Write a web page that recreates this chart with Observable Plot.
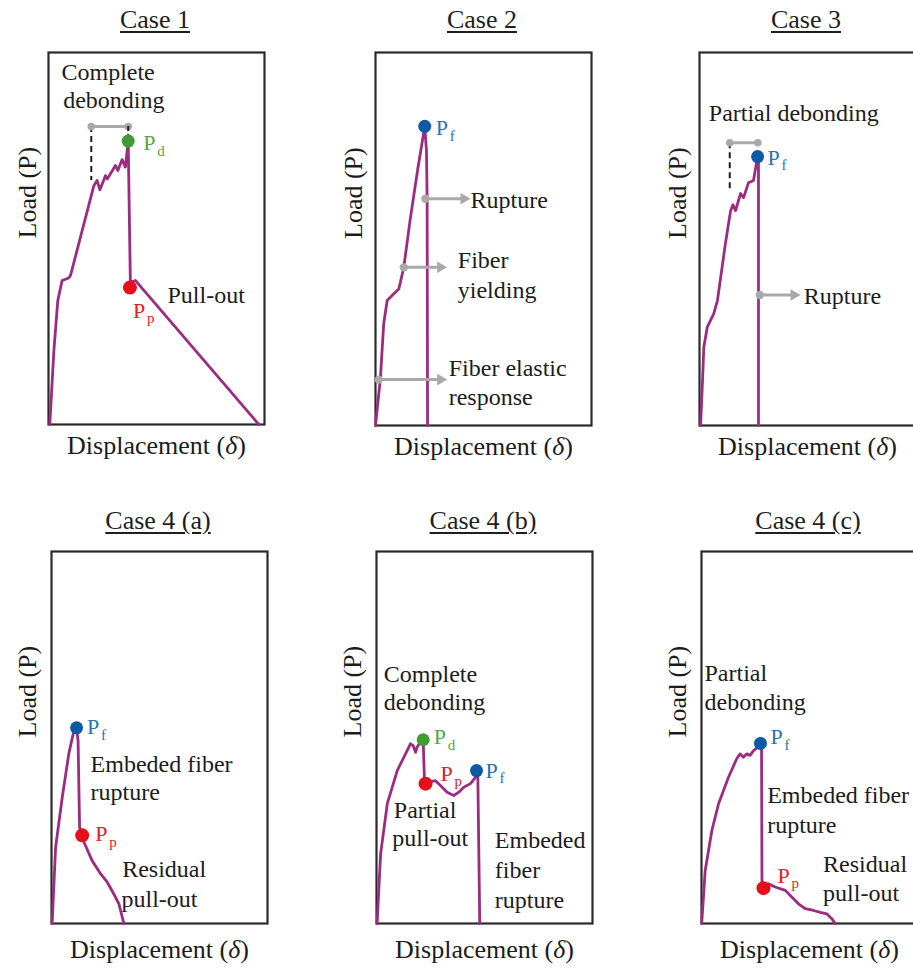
<!DOCTYPE html>
<html>
<head>
<meta charset="utf-8">
<script src="https://cdn.jsdelivr.net/npm/d3@7"></script>
<script src="https://cdn.jsdelivr.net/npm/@observablehq/plot@0.6"></script>
<style>
  html, body { margin: 0; padding: 0; background: #fff; overflow: hidden; }
  #fig { position: relative; width: 913px; height: 973px; overflow: hidden;
         font-family: "Liberation Serif", "Times New Roman", serif; }
  .panel { position: absolute; }
  .panel svg { max-width: none !important; }
  .title { position: absolute; width: 240px; text-align: center; font-size: 26px; line-height: 30px;
           color: #1e1e1e; text-decoration: underline; text-decoration-thickness: 1.5px;
           text-underline-offset: 3px; white-space: nowrap; }
</style>
</head>
<body>
<div id="fig"></div>
<script>
// Schematic load–displacement responses of a fiber pulled from a matrix.
// Displacement and load are given as % of each plotting window.

// ---- Case 1: complete debonding followed by pull-out
const case1Curve = [[0.6,0],[2.5,19.9],[4.3,33.3],[6.3,38.7],[9.4,39.4],[10.2,40.1],[21.0,64.2],[22.5,65.6],[23.8,63.1],
  [26.4,66.9],[27.2,66.0],[31.0,69.6],[32.1,68.3],[34.1,71.2],[35.6,69.2],[36.9,76.2],[37.9,38.2],[40.3,38.7],[97.4,0]];
const case1Points = [{x:36.9,y:76.2,kind:"d"},{x:37.7,y:36.8,kind:"p"}];
const case1Notes = [{x:6.0,y:94.6,text:"Complete"},{x:6.8,y:87.1,text:"debonding"},{x:55.1,y:34.7,text:"Pull-out"}];
const case1Span = {x1:19.8,x2:36.9,y:80.1,drop:65.6,peak:76.2};

// ---- Case 2: fiber rupture
const case2Curve = [[0,0],[2.3,12.9],[3.8,27.3],[5.4,33.5],[8.5,35.3],[10.8,36.6],[13.1,42.4],[16.0,55.0],[19.5,68.5],
  [22.8,80.2],[23.6,73.7],[23.9,60.3],[24.1,0]];
const case2Points = [{x:22.8,y:80.2,kind:"f"}];
const case2Notes = [{x:44.0,y:60.3,text:"Rupture"},{x:38.1,y:44.2,text:"Fiber"},{x:38.1,y:36.2,text:"yielding"},
  {x:33.9,y:15.3,text:"Fiber elastic"},{x:33.9,y:7.6,text:"response"}];
const case2Arrows = [{x1:23.1,x2:40.9,y:60.8},{x1:13.1,x2:30.1,y:42.4},{x1:1.5,x2:30.1,y:12.3}];

// ---- Case 3: partial debonding then rupture
const case3Curve = [[0.5,0],[1.4,12.1],[2.0,21.0],[3.6,26.4],[6.6,30.0],[8.3,33.5],[12.0,48.8],[14.4,57.6],[15.5,59.2],
  [16.7,57.6],[19.0,62.2],[20.4,61.1],[22.7,65.1],[25.0,65.7],[26.9,72.1],[27.3,71.0],[27.3,0]];
const case3Points = [{x:26.9,y:72.1,kind:"f"}];
const case3Notes = [{x:4.3,y:83.6,text:"Partial debonding"},{x:48.3,y:34.6,text:"Rupture"}];
const case3Arrows = [{x1:27.9,x2:43.7,y:35.0}];
const case3Span = {x1:14.0,x2:27.0,y:75.8,drop:62.5,peak:null};

// ---- Case 4 (a)
const case4aCurve = [[0.3,0],[1.9,20.5],[5.0,34.0],[8.0,45.6],[10.3,51.7],[11.6,52.6],[12.3,49.2],[13.0,25.9],[14.2,23.7],
  [15.0,21.9],[18.8,16.9],[22.7,13.4],[25.8,11.1],[28.8,8.0],[31.2,5.3],[33.5,0]];
const case4aPoints = [{x:11.6,y:52.6,kind:"f"},{x:14.2,y:23.7,kind:"p"}];
const case4aNotes = [{x:18.1,y:42.9,text:"Embeded fiber"},{x:18.1,y:35.3,text:"rupture"},
  {x:32.7,y:14.7,text:"Residual"},{x:32.4,y:6.6,text:"pull-out"}];

// ---- Case 4 (b)
const case4bCurve = [[0.3,0],[1.9,18.7],[5.0,32.2],[9.6,41.1],[14.2,46.5],[15.7,48.3],[17.0,47.8],[18.1,46.0],[18.8,47.4],
  [20.4,48.9],[21.6,49.4],[22.2,38.4],[22.7,37.6],[24.2,38.0],[27.3,38.4],[29.6,37.1],[32.7,35.3],[35.8,34.4],[38.1,35.3],
  [40.4,36.6],[43.5,37.6],[45.8,39.3],[46.3,41.1],[46.9,40.2],[47.8,0]];
const case4bPoints = [{x:21.6,y:49.4,kind:"d"},{x:22.7,y:37.6,kind:"p"},{x:46.3,y:41.1,kind:"f"}];
const case4bNotes = [{x:3.4,y:67.1,text:"Complete"},{x:3.4,y:59.5,text:"debonding"},{x:8.0,y:30.4,text:"Partial"},
  {x:7.3,y:22.8,text:"pull-out"},{x:54.8,y:22.3,text:"Embeded"},{x:54.8,y:14.2,text:"fiber"},{x:54.8,y:6.2,text:"rupture"}];

// ---- Case 4 (c)
const case4cCurve = [[0.1,0],[1.7,14.2],[4.8,25.0],[7.9,32.2],[12.5,39.3],[16.3,44.3],[17.9,45.6],[19.4,44.7],[21.0,45.6],
  [22.5,45.2],[24.1,46.5],[26.1,47.4],[27.3,48.4],[27.8,46.5],[28.0,10.7],[28.7,9.5],[31.0,10.7],[34.1,9.8],[38.8,8.9],
  [41.8,7.1],[44.9,5.3],[48.0,4.0],[51.9,3.5],[55.0,3.0],[58.0,2.6],[60.3,1.3],[61.9,0]];
const case4cPoints = [{x:27.3,y:48.4,kind:"f"},{x:28.7,y:9.5,kind:"p"}];
const case4cNotes = [{x:1.4,y:67.3,text:"Partial"},{x:1.4,y:59.5,text:"debonding"},{x:30.4,y:34.4,text:"Embeded fiber"},
  {x:30.4,y:26.3,text:"rupture"},{x:56.3,y:16.0,text:"Residual"},{x:56.3,y:8.0,text:"pull-out"}];

// ---- styling
const FONT = "'Liberation Serif', 'Times New Roman', serif";
const PURPLE = "#9b2c80";
const GRAY = "#a9a9a9";
const INK = "#1c1c1c";
const dotFill = {d: "#3f9b35", p: "#e5101c", f: "#0c5aa6"};
const labelFill = {d: "#58a644", p: "#e1201f", f: "#2a73a9"};
const dotR = {d: 6.5, p: 7, f: 6.5};

// panel layout: frame position (px), label offsets for the point markers
const panels = [
  {title:"Case 1", left:48, top:52, h:372, curve:case1Curve, points:case1Points, notes:case1Notes, span:case1Span,
   offsets:[[15,2],[3,23]], loadDx:-21, dispDy:29, titleTop:5},
  {title:"Case 2", left:375, top:52, h:373, curve:case2Curve, points:case2Points, notes:case2Notes, arrows:case2Arrows,
   offsets:[[11,2]], loadDx:-22, dispDy:29, titleTop:5},
  {title:"Case 3", left:699, top:52, h:373, curve:case3Curve, points:case3Points, notes:case3Notes, arrows:case3Arrows,
   span:case3Span, offsets:[[10,1]], loadDx:-22, dispDy:29, titleTop:5},
  {title:"Case 4 (a)", left:51, top:551, h:372, curve:case4aCurve, points:case4aPoints, notes:case4aNotes,
   offsets:[[10.5,-1],[13,-1]], loadDx:-24, dispDy:34, titleTop:506},
  {title:"Case 4 (b)", left:376, top:551, h:372, curve:case4bCurve, points:case4bPoints, notes:case4bNotes,
   offsets:[[10.5,-3],[15,-10],[9,0]], loadDx:-24, dispDy:34, titleTop:506},
  {title:"Case 4 (c)", left:701, top:551, h:372, curve:case4cCurve, points:case4cPoints, notes:case4cNotes,
   offsets:[[10,-6],[14,-12.5]], loadDx:-24, dispDy:34, titleTop:506}
];

const W = 216, ML = 50, MR = 12, MT = 12, MB = 52;
const fig = document.getElementById("fig");

for (const p of panels) {
  const marks = [Plot.frame({stroke: "#2a2a2a", strokeWidth: 2.2})];

  if (p.span) {
    const s = [p.span];
    marks.push(
      Plot.ruleX(s, {x: "x1", y1: "y", y2: "drop", stroke: INK, strokeWidth: 2, strokeDasharray: "6,4"}),
      Plot.ruleY(s, {y: "y", x1: "x1", x2: "x2", stroke: GRAY, strokeWidth: 3}),
      Plot.dot(s, {x: "x1", y: "y", r: 3.8, fill: GRAY}),
      Plot.dot(s, {x: "x2", y: "y", r: 3.8, fill: GRAY})
    );
    if (p.span.peak != null)
      marks.push(Plot.ruleX(s, {x: "x2", y1: "y", y2: "peak", stroke: INK, strokeWidth: 2, strokeDasharray: "5,3"}));
  }

  marks.push(Plot.line(p.curve, {x: d => d[0], y: d => d[1], stroke: PURPLE, strokeWidth: 2.8,
                                 strokeLinejoin: "round", strokeLinecap: "round"}));

  // gray pointers: round tail, filled triangular head
  if (p.arrows) {
    marks.push(
      Plot.link(p.arrows, {x1: "x1", x2: "x2", y1: "y", y2: "y", stroke: GRAY, strokeWidth: 3}),
      Plot.dot(p.arrows, {x: "x1", y: "y", r: 4.2, fill: GRAY}),
      Plot.dot(p.arrows, {x: "x2", y: "y", symbol: "triangle2", rotate: 90, r: 5.5, fill: GRAY})
    );
  }

  marks.push(Plot.dot(p.points, {x: "x", y: "y", r: d => dotR[d.kind], fill: d => dotFill[d.kind]}));

  // P_d, P_p, P_f markers
  p.points.forEach((pt, i) => {
    const [dx, dy] = p.offsets[i];
    marks.push(
      Plot.text([pt], {x: "x", y: "y", text: () => "P", dx, dy, fill: labelFill[pt.kind], fontSize: 22,
                       textAnchor: "start", fontFamily: FONT}),
      Plot.text([pt], {x: "x", y: "y", text: d => d.kind, dx: dx + 14, dy: dy + 8, fill: labelFill[pt.kind],
                       fontSize: 15, textAnchor: "start", fontFamily: FONT})
    );
  });

  marks.push(
    Plot.text(p.notes, {x: "x", y: "y", text: "text", textAnchor: "start", fontSize: 24, fill: INK, fontFamily: FONT}),
    Plot.text(["Load (P)"], {text: d => d, frameAnchor: "left", rotate: -90, dx: p.loadDx, fontSize: 26,
                             fill: INK, fontFamily: FONT}),
    Plot.text(["Displacement (δ)"], {text: d => d, frameAnchor: "bottom", dy: p.dispDy, fontSize: 26,
                                     fill: INK, fontFamily: FONT})
  );

  const svg = Plot.plot({
    width: W + ML + MR, height: p.h + MT + MB,
    marginLeft: ML, marginRight: MR, marginTop: MT, marginBottom: MB,
    x: {domain: [0, 100], axis: null},
    y: {domain: [0, 100], axis: null},
    r: {type: "identity"},
    style: {fontFamily: FONT, background: "transparent", overflow: "visible", maxWidth: "none"},
    marks
  });

  // italic delta in the displacement label
  d3.select(svg).selectAll("text")
    .filter(function () { return this.textContent === "Displacement (δ)"; })
    .each(function () {
      const t = d3.select(this).text(null);
      t.append("tspan").text("Displacement (");
      t.append("tspan").attr("font-style", "italic").text("δ");
      t.append("tspan").text(")");
    });

  const wrap = document.createElement("div");
  wrap.className = "panel";
  wrap.style.left = (p.left - ML) + "px";
  wrap.style.top = (p.top - MT) + "px";
  wrap.style.width = (W + ML + MR) + "px";
  wrap.appendChild(svg);
  fig.appendChild(wrap);

  const title = document.createElement("div");
  title.className = "title";
  title.textContent = p.title;
  title.style.left = (p.left + W / 2 - 1 - 120) + "px";
  title.style.top = p.titleTop + "px";
  fig.appendChild(title);
}
</script>
</body>
</html>
